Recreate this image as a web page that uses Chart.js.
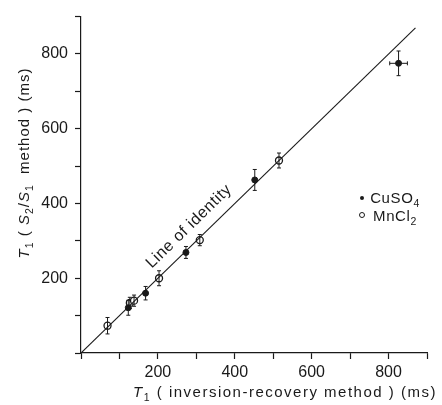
<!DOCTYPE html>
<html>
<head>
<meta charset="utf-8">
<script src="https://cdn.jsdelivr.net/npm/chart.js@4"></script>
<style>
  html, body { margin: 0; padding: 0; background: #fff; }
  #wrap { width: 442px; height: 405px; }
</style>
</head>
<body>
<div id="wrap"><canvas id="chart"></canvas></div>
<script>
(() => {
  "use strict";

  // values (ms)
  const cuX = [123, 168, 273, 452, 826];
  const cuY = [121, 160, 269, 463, 775];
  const cuErrX = [0, 0, 0, 0, 23];
  const cuErrY = [20, 18, 16, 28, 33];

  const mnX = [69, 127, 138, 203, 309, 515];
  const mnY = [73, 134, 140, 200, 302, 515];
  const mnErrX = [0, 0, 0, 0, 0, 0];
  const mnErrY = [22, 15, 15, 20, 15, 20];

  const identity = [0, 870];
  const tickLabels = [200, 400, 600, 800];

  const FONT = "'Liberation Sans', Arial, sans-serif";
  const INK = "#1a1a1a";

  const pts = (xs, ys) => xs.map((x, i) => ({ x, y: ys[i] }));

  // draw a run of text parts {t, it, sub}, centred on x
  function rich(ctx, parts, x, y, size, spacing) {
    ctx.save();
    ctx.textBaseline = "alphabetic";
    ctx.textAlign = "left";
    ctx.letterSpacing = (spacing || 0) + "px";
    const fontOf = (p) => `${p.it ? "italic " : ""}${p.sub ? size * 0.7 : size}px ${FONT}`;
    let w = 0;
    for (const p of parts) { ctx.font = fontOf(p); w += ctx.measureText(p.t).width; }
    let cx = x - w / 2;
    for (const p of parts) {
      ctx.font = fontOf(p);
      ctx.fillText(p.t, cx, p.sub ? y + size * 0.28 : y);
      cx += ctx.measureText(p.t).width;
    }
    ctx.restore();
  }

  const extras = {
    id: "extras",
    afterDatasetsDraw(chart) {
      const { ctx } = chart;
      const sx = chart.scales.x, sy = chart.scales.y;
      ctx.save();
      ctx.strokeStyle = INK;
      ctx.fillStyle = INK;
      ctx.lineWidth = 1;

      // error bars
      const bars = (xs, ys, ex, ey) => {
        xs.forEach((x, i) => {
          const px = sx.getPixelForValue(x), py = sy.getPixelForValue(ys[i]);
          ctx.beginPath();
          if (ey[i]) {
            const t = sy.getPixelForValue(ys[i] + ey[i]), b = sy.getPixelForValue(ys[i] - ey[i]);
            ctx.moveTo(px, t); ctx.lineTo(px, b);
            ctx.moveTo(px - 2, t); ctx.lineTo(px + 2, t);
            ctx.moveTo(px - 2, b); ctx.lineTo(px + 2, b);
          }
          if (ex[i]) {
            const l = sx.getPixelForValue(x - ex[i]), r = sx.getPixelForValue(x + ex[i]);
            ctx.moveTo(l, py); ctx.lineTo(r, py);
            ctx.moveTo(l, py - 2); ctx.lineTo(l, py + 2);
            ctx.moveTo(r, py - 2); ctx.lineTo(r, py + 2);
          }
          ctx.stroke();
        });
      };
      bars(cuX, cuY, cuErrX, cuErrY);
      bars(mnX, mnY, mnErrX, mnErrY);

      // "Line of identity"
      const a = Math.atan2(sy.getPixelForValue(0) - sy.getPixelForValue(100),
                           sx.getPixelForValue(100) - sx.getPixelForValue(0));
      ctx.save();
      ctx.translate(sx.getPixelForValue(278), sy.getPixelForValue(342));
      ctx.rotate(-a);
      rich(ctx, [{ t: "Line of identity" }], 0, 6, 16, 0.6);
      ctx.restore();

      // legend
      ctx.beginPath(); ctx.arc(362, 198, 2, 0, Math.PI * 2); ctx.fill();
      ctx.beginPath(); ctx.arc(362, 215, 2.5, 0, Math.PI * 2); ctx.stroke();
      rich(ctx, [{ t: "CuSO" }, { t: "4", sub: true }], 395, 203, 15, 0.6);
      rich(ctx, [{ t: "MnCl" }, { t: "2", sub: true }], 395, 221, 15, 0.6);

      // axis titles
      rich(ctx, [{ t: "T", it: true }, { t: "1", sub: true }, { t: " ( inversion-recovery method ) (ms)" }],
           285, 397, 15, 1.5);
      ctx.save();
      ctx.translate(29, 163);
      ctx.rotate(-Math.PI / 2);
      rich(ctx, [{ t: "T", it: true }, { t: "1", sub: true }, { t: " ( " }, { t: "S", it: true }, { t: "2", sub: true },
                 { t: "/" }, { t: "S", it: true }, { t: "1", sub: true }, { t: "  method ) (ms)" }],
           0, 0, 15, 1.0);
      ctx.restore();

      ctx.restore();
    },
  };

  const axis = (fit, isX) => ({
    type: "linear",
    min: 0,
    max: 900,
    ticks: {
      stepSize: 100,
      autoSkip: false,
      maxRotation: 0,
      color: INK,
      padding: isX ? 4 : 7,
      font: { family: FONT, size: 16 },
      callback: (v) => (tickLabels.includes(v) ? String(v) : ""),
    },
    grid: { drawOnChartArea: false, drawTicks: true, tickLength: 6, color: INK, tickWidth: 1.2 },
    border: { display: true, color: INK, width: 1.2 },
    afterFit: fit,
  });

  new Chart(document.getElementById("chart"), {
    type: "scatter",
    data: {
      datasets: [
        {
          label: "identity",
          data: pts(identity, identity),
          showLine: true,
          borderColor: INK,
          borderWidth: 1.1,
          pointRadius: 0,
        },
        {
          label: "CuSO4",
          data: pts(cuX, cuY),
          pointRadius: 3,
          pointBackgroundColor: INK,
          pointBorderColor: INK,
          borderWidth: 1,
        },
        {
          label: "MnCl2",
          data: pts(mnX, mnY),
          pointRadius: 3.5,
          pointBackgroundColor: "#fff",
          pointBorderColor: INK,
          pointBorderWidth: 1.3,
        },
      ],
    },
    options: {
      responsive: true,
      maintainAspectRatio: false,
      animation: false,
      layout: { padding: { top: 9, right: 15, left: 0, bottom: 0 } },
      plugins: { legend: { display: false }, tooltip: { enabled: false } },
      scales: {
        x: axis((s) => { s.height = 52; }, true),
        y: axis((s) => { s.width = 81; }, false),
      },
    },
    plugins: [extras],
  });
})();
</script>
</body>
</html>
